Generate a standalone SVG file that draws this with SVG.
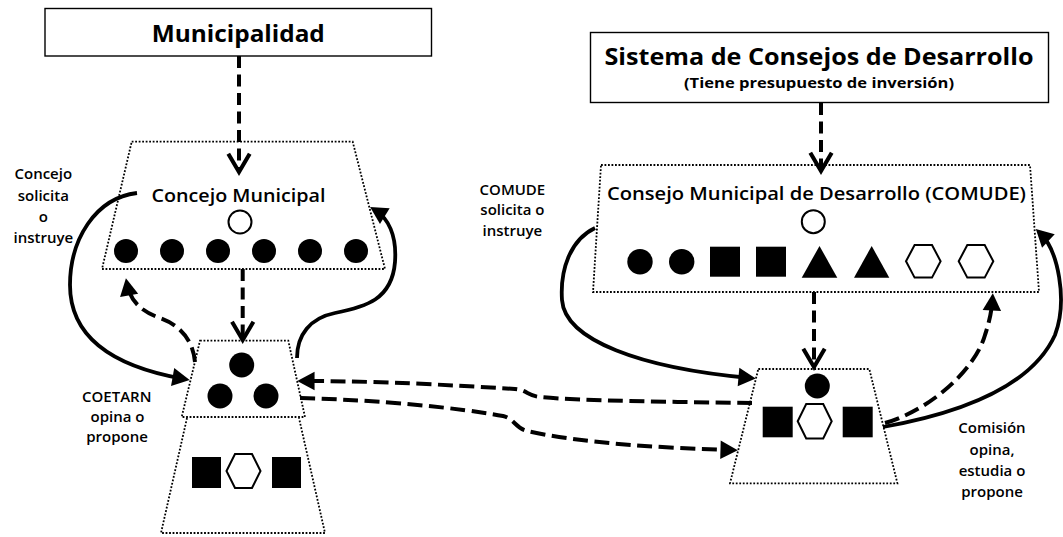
<svg xmlns="http://www.w3.org/2000/svg" width="1063" height="537" viewBox="0 0 1063 537">
<style>
text{font-family:"Open Sans","Liberation Sans",sans-serif;fill:#000;text-anchor:middle}
.title{font-size:24px;font-weight:700}
.sub{font-size:14.5px;font-weight:700}
.head{font-size:18px;font-weight:600}
.lbl{font-size:15px;font-weight:600}
.box{fill:#fff;stroke:#000;stroke-width:1.4}
.dot{fill:none;stroke:#000;stroke-width:1.8;stroke-dasharray:1.8 1.7}
.blk{fill:#000}
.open{fill:#fff;stroke:#000;stroke-width:2}
.dv{fill:none;stroke:#000;stroke-width:4;stroke-dasharray:12 6.5}
.dc{fill:none;stroke:#000;stroke-width:4;stroke-dasharray:15 6.5}
.sc{fill:none;stroke:#000;stroke-width:3.8}
</style>
<defs>
<marker id="chev" markerUnits="userSpaceOnUse" markerWidth="30" markerHeight="30" viewBox="-22 -14 26 28" refX="0" refY="0" orient="auto">
<path d="M-17,-10 L0,0 L-17,10" fill="none" stroke="#000" stroke-width="3.8" stroke-linejoin="miter"/>
</marker>
<marker id="tri" markerUnits="userSpaceOnUse" markerWidth="30" markerHeight="30" viewBox="-20 -12 26 24" refX="-5" refY="0" orient="auto">
<path d="M0,0 L-15,-8 L-15,8 z" fill="#000"/>
</marker>
</defs>

<g id="municipalidad">
<rect class="box" x="45" y="8.5" width="386.5" height="47.5"/>
<text class="title" x="238.3" y="41.7" textLength="173" lengthAdjust="spacingAndGlyphs">Municipalidad</text>
</g>

<g id="concejo-municipal">
<polygon class="dot" points="131.7,141.7 352.7,141.7 385,269 102,269"/>
<text class="head" x="238.5" y="201.7" textLength="174" lengthAdjust="spacingAndGlyphs">Concejo Municipal</text>
<circle class="open" cx="240" cy="222" r="11.5"/>
<circle class="blk" cx="126" cy="251" r="12"/>
<circle class="blk" cx="172" cy="251" r="12"/>
<circle class="blk" cx="218" cy="251" r="12"/>
<circle class="blk" cx="264" cy="251" r="12"/>
<circle class="blk" cx="310" cy="251" r="12"/>
<circle class="blk" cx="356" cy="251" r="12"/>
</g>

<g id="coetarn">
<polygon class="dot" points="200,340.7 288.3,340.7 305,417 181.7,417"/>
<path class="dot" d="M187,418 L161,533 L325,533 L299,418"/>
<circle class="blk" cx="241.7" cy="365" r="12.5"/>
<circle class="blk" cx="220" cy="396" r="12.5"/>
<circle class="blk" cx="266" cy="396" r="12.5"/>
<rect class="blk" x="192" y="457" width="29" height="31"/>
<polygon class="open" points="226.5,471 235,454 252,454 260.5,471 252,488 235,488"/>
<rect class="blk" x="272" y="457" width="29" height="31"/>
</g>

<g id="sistema-consejos">
<rect class="box" x="590.5" y="32.5" width="458" height="70"/>
<text class="title" x="819" y="64.5" textLength="429" lengthAdjust="spacingAndGlyphs">Sistema de Consejos de Desarrollo</text>
<text class="sub" x="819" y="88.3" textLength="270" lengthAdjust="spacingAndGlyphs">(Tiene presupuesto de inversión)</text>
</g>

<g id="comude">
<polygon class="dot" points="601,165 1030,165 1039,292 593,292"/>
<text class="head" x="816.5" y="200" textLength="419" lengthAdjust="spacingAndGlyphs">Consejo Municipal de Desarrollo (COMUDE)</text>
<circle class="open" cx="813.3" cy="221.7" r="11.5"/>
<circle class="blk" cx="640" cy="261.7" r="12.7"/>
<circle class="blk" cx="681.7" cy="261.7" r="12.7"/>
<rect class="blk" x="710" y="246.7" width="30" height="30"/>
<rect class="blk" x="756" y="246.7" width="30" height="30"/>
<polygon class="blk" points="801.7,277.7 819.5,246 837.3,277.7"/>
<polygon class="blk" points="854,277.7 871.7,246 889.3,277.7"/>
<polygon class="open" points="906,261.3 914.6,245 932,245 940.6,261.3 932,277.6 914.6,277.6"/>
<polygon class="open" points="958.7,261.3 967.3,245 984.7,245 993.3,261.3 984.7,277.6 967.3,277.6"/>
</g>

<g id="comision">
<polygon class="dot" points="758.3,369 869.3,369 897.4,483.3 730,483.3"/>
<circle class="blk" cx="817.3" cy="386" r="12.5"/>
<rect class="blk" x="762.7" y="406.7" width="30" height="30.6"/>
<polygon class="open" points="797.7,421.2 806.2,404 823.2,404 831.7,421.2 823.2,438.4 806.2,438.4"/>
<rect class="blk" x="842.7" y="406.7" width="30" height="30.6"/>
</g>

<g id="labels">
<text class="lbl" x="43.3" y="179">Concejo</text>
<text class="lbl" x="43.3" y="200.7">solicita</text>
<text class="lbl" x="43.3" y="221.7">o</text>
<text class="lbl" x="43.3" y="243">instruye</text>
<text class="lbl" x="116.7" y="401.7">COETARN</text>
<text class="lbl" x="117.5" y="421.7">opina o</text>
<text class="lbl" x="117" y="442">propone</text>
<text class="lbl" x="512.4" y="195">COMUDE</text>
<text class="lbl" x="512.4" y="215">solicita o</text>
<text class="lbl" x="512.4" y="235.7">instruye</text>
<text class="lbl" x="992" y="433">Comisión</text>
<text class="lbl" x="992" y="454.5">opina,</text>
<text class="lbl" x="992" y="476">estudia o</text>
<text class="lbl" x="992" y="497">propone</text>
</g>

<g id="connectors">
<path class="dv" d="M239,56 L239,172" marker-end="url(#chev)"/>
<path class="dv" d="M242.7,269 L242.7,340" marker-end="url(#chev)"/>
<path class="dv" d="M821,103 L821,171" marker-end="url(#chev)"/>
<path class="dv" d="M814,292 L814,367" marker-end="url(#chev)"/>
<path class="sc" d="M137,193 C95,198 70,240 70,285 C70,335 110,366 184,379" marker-end="url(#tri)"/>
<path class="dc" d="M195,362 C193,340 180,325 160,318 C140,311 130,300 127,284" marker-end="url(#tri)"/>
<path class="sc" d="M297,358 C297,335 310,318 335,313 C365,307 392,300 395,262 C397,235 388,218 375,210" marker-end="url(#tri)"/>
<path class="dc" d="M752,403 C680,402 580,401 540,397 C528,396 527,390 515,389 C450,385 380,381 303,381" marker-end="url(#tri)"/>
<path class="dc" d="M300,398 C380,400 460,408 503,416 C515,419 515,428 527,431 C580,443 660,448 732,450" marker-end="url(#tri)"/>
<path class="sc" d="M595,228 C570,240 560,270 562,300 C565,340 640,368 750,378" marker-end="url(#tri)"/>
<path class="sc" d="M883,427 C950,415 1030,390 1055,335 C1068,300 1058,250 1040,233" marker-end="url(#tri)"/>
<path class="dc" d="M885,423 C930,410 975,370 985,335 C990,320 992,308 992.5,299" marker-end="url(#tri)"/>
</g>
</svg>
